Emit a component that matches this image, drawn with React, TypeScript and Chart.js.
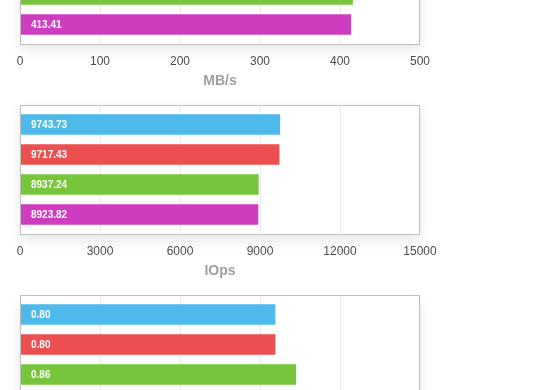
import React, { useEffect, useRef } from "react";
import { Chart, registerables } from "chart.js";

Chart.register(...registerables);

const seriesNames = ["Run 1", "Run 2", "Run 3", "Run 4"];
const barColors = ["#4EB9EB", "#EC4F4F", "#76C53A", "#CE3CBF"];

const throughputValues = [418.72, 417.95, 415.62, 413.41];
const throughputTicks = [0, 100, 200, 300, 400, 500];

const iopsValues = [9743.73, 9717.43, 8937.24, 8923.82];
const iopsTicks = [0, 3000, 6000, 9000, 12000, 15000];

const latencyValues = [0.797, 0.797, 0.862, 0.864];
const latencyTicks = [0, 0.25, 0.5, 0.75, 1, 1.25];

const FONT = "'Liberation Sans', Arial, Helvetica, sans-serif";
const Y_MIN = -0.65;
const Y_MAX = seriesNames.length - 0.35;

const boxPlugin = {
  id: "boxPlugin",
  beforeDraw(chart: any) {
    const { ctx, chartArea } = chart;
    ctx.save();
    ctx.shadowColor = "rgba(0,0,0,0.10)";
    ctx.shadowBlur = 12;
    ctx.shadowOffsetY = 6;
    ctx.fillStyle = "#ffffff";
    ctx.fillRect(chartArea.left, chartArea.top, chartArea.right - chartArea.left, chartArea.bottom - chartArea.top);
    ctx.restore();
  },
  afterDatasetsDraw(chart: any) {
    const { ctx, chartArea } = chart;
    ctx.save();
    ctx.strokeStyle = "#bdbdbd";
    ctx.lineWidth = 1;
    ctx.strokeRect(
      Math.round(chartArea.left) + 0.5,
      Math.round(chartArea.top) + 0.5,
      Math.round(chartArea.right - chartArea.left) - 1,
      Math.round(chartArea.bottom - chartArea.top)
    );
    const meta = chart.getDatasetMeta(0);
    const data = chart.data.datasets[0].data;
    ctx.fillStyle = "#ffffff";
    ctx.font = "bold 10px " + FONT;
    ctx.textAlign = "left";
    ctx.textBaseline = "middle";
    meta.data.forEach((el: any, i: number) => {
      const v = data[i].x as number;
      ctx.fillText(v.toFixed(2), chartArea.left + 11, el.y + 0.5);
    });
    ctx.restore();
  },
};

function BarBlock({ values, ticks, title }: { values: number[]; ticks: number[]; title: string }) {
  const ref = useRef<HTMLCanvasElement | null>(null);
  useEffect(() => {
    if (!ref.current) return;
    const chart = new Chart(ref.current, {
      type: "bar",
      data: {
        datasets: [
          {
            label: title,
            data: values.map((v, i) => ({ x: v, y: i })),
            backgroundColor: barColors,
            borderWidth: 0,
            barThickness: 20,
          } as any,
        ],
      },
      options: {
        animation: false,
        responsive: true,
        maintainAspectRatio: false,
        indexAxis: "y",
        layout: { padding: { left: 20, right: 140, top: 10, bottom: 5 } },
        plugins: { legend: { display: false }, tooltip: { enabled: false } },
        scales: {
          y: {
            type: "linear",
            display: false,
            offset: false,
            bounds: "data",
            min: Y_MIN,
            max: Y_MAX,
            reverse: true,
            afterBuildTicks: (scale: any) => {
              scale.min = Y_MIN;
              scale.max = Y_MAX;
            },
          },
          x: {
            type: "linear",
            min: ticks[0],
            max: ticks[ticks.length - 1],
            afterBuildTicks: (scale: any) => {
              scale.ticks = ticks.map((t) => ({ value: t }));
            },
            afterFit: (scale: any) => {
              scale.height = 46;
            },
            border: { display: false },
            grid: {
              drawTicks: false,
              color: (c: any) =>
                c.index === 0 || c.index === ticks.length - 1 ? "rgba(0,0,0,0)" : "#ebebeb",
            },
            ticks: {
              padding: 10,
              color: "#4a4a4a",
              font: { family: FONT, size: 12 },
              maxRotation: 0,
              callback: (v: any) => String(v),
            },
            title: {
              display: true,
              text: title,
              color: "#9e9e9e",
              font: { family: FONT, size: 14, weight: "bold" },
              padding: { top: 0, bottom: 0 },
            },
          },
        },
      } as any,
      plugins: [boxPlugin],
    });
    return () => chart.destroy();
  }, []);
  return (
    <div style={{ position: "relative", width: 560, height: 190 }}>
      <canvas ref={ref} />
    </div>
  );
}

export default function App() {
  return (
    <div style={{ position: "absolute", left: 0, top: -95, width: 560 }}>
      <BarBlock values={throughputValues} ticks={throughputTicks} title="MB/s" />
      <BarBlock values={iopsValues} ticks={iopsTicks} title="IOps" />
      <BarBlock values={latencyValues} ticks={latencyTicks} title="ms" />
    </div>
  );
}
